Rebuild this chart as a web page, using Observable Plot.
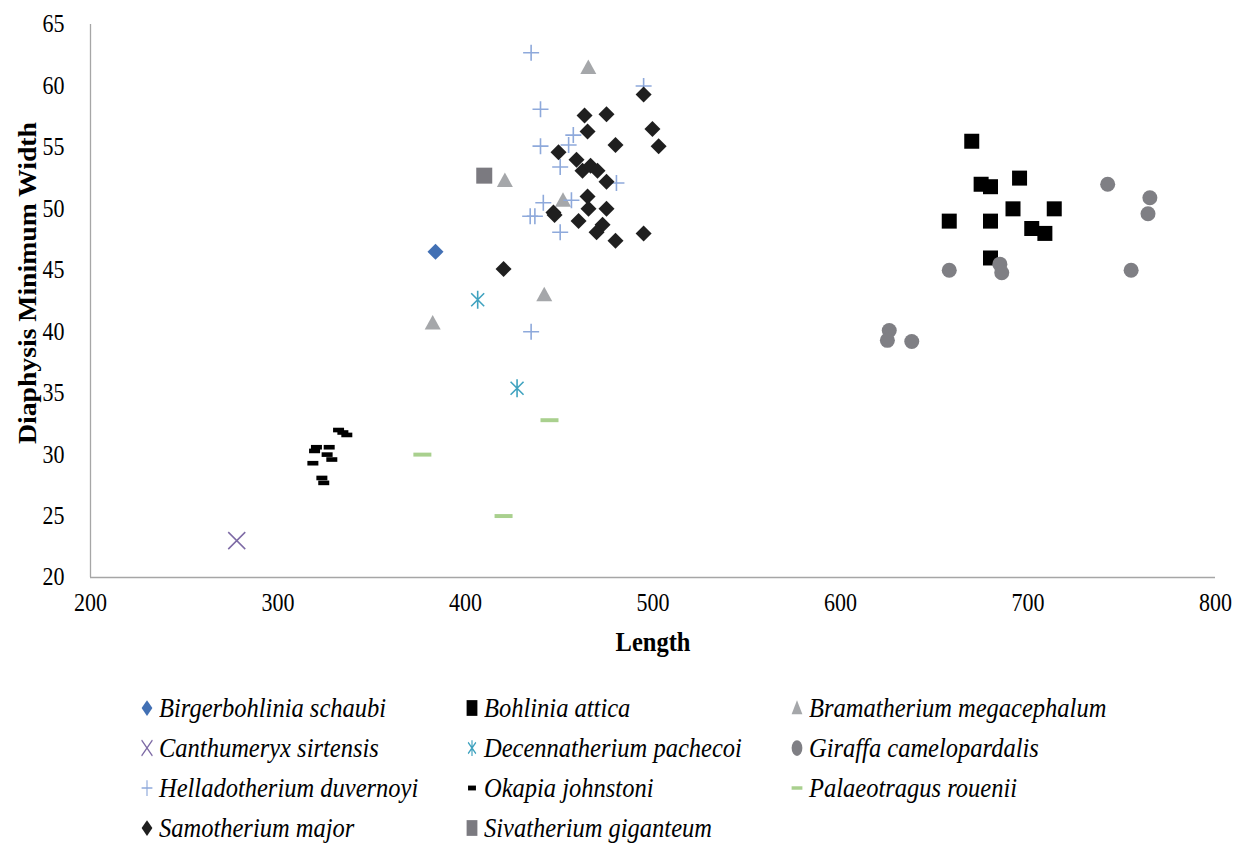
<!DOCTYPE html>
<html><head><meta charset="utf-8">
<script src="https://cdn.jsdelivr.net/npm/d3@7"></script>
<script src="https://cdn.jsdelivr.net/npm/@observablehq/plot@0.6"></script>
<style>
body{margin:0;background:#fff;font-family:"Liberation Serif","Times New Roman",serif;}
#wrap{width:1238px;}
#legend{display:grid;grid-template-columns:325px 325px 325px;grid-auto-rows:40px;padding-left:137px;padding-top:16px;}
.item{display:flex;align-items:center;font-family:"Liberation Serif","Times New Roman",serif;font-style:italic;font-size:24.5px;color:#000;white-space:nowrap;}
.item svg{margin-right:2px;flex:none;}
.item span{display:inline-block;transform:scaleY(1.12);transform-origin:left center;}
</style></head>
<body><div id="wrap"><div id="chart"></div><div id="legend"></div></div>
<script>
// ---- data (Length, Diaphysis Minimum Width) ----
const species = ["Birgerbohlinia schaubi","Bohlinia attica","Bramatherium megacephalum","Canthumeryx sirtensis","Decennatherium pachecoi","Giraffa camelopardalis","Helladotherium duvernoyi","Okapia johnstoni","Palaeotragus rouenii","Samotherium major","Sivatherium giganteum"];
const birgerbohlinia = [[384,46.5]];
const bohlinia = [[670,55.5],[658,49.0],[675,52.0],[680,51.8],[695.5,52.5],[692,50.0],[680,49.0],[702,48.4],[709,48.0],[714,50.0],[680,46.0]];
const bramatherium = [[465.5,61.5],[421,52.3],[452,50.7],[442,43.0],[382.5,40.7]];
const canthumeryx = [[278,23.0]];
const decennatherium = [[406.5,42.6],[427.5,35.4]];
const giraffa = [[742.5,52.0],[765,50.9],[764,49.6],[755,45.0],[658,45.0],[685,45.5],[686,44.8],[626,40.1],[625,39.3],[638,39.2]];
const helladotherium = [[435,62.7],[495,60.0],[440,58.1],[440,55.1],[457.5,56.0],[455,55.2],[450.5,53.4],[480.5,52.1],[441.5,50.5],[456.5,50.7],[434.5,49.4],[437,49.4],[450.5,48.1],[435,40.0]];
const okapia = [[332.3,32.0],[334.6,31.8],[336.7,31.6],[320.5,30.6],[327.3,30.6],[319.5,30.3],[326.2,30.0],[328.7,29.6],[318.6,29.3],[323.4,28.1],[324.4,27.7]];
const palaeotragus = [[377,30.0],[420.3,25.0],[444.8,32.8]];
const samotherium = [[495,59.3],[463.5,57.6],[475.2,57.7],[499.7,56.5],[465.1,56.3],[480,55.2],[503,55.1],[449.6,54.6],[459.2,54.0],[462.4,53.1],[466.7,53.5],[470.4,53.1],[475.2,52.2],[465.1,51.0],[465.6,50.0],[475.2,50.0],[446.9,49.7],[447.5,49.5],[460.3,49.0],[473.1,48.7],[469.9,48.1],[480,47.4],[495,48.0],[420.3,45.1]];
const sivatherium = [[410,52.7]];
const xTicks = [200,300,400,500,600,700,800];
const yTicks = [20,25,30,35,40,45,50,55,60,65];
const xTitle = "Length";
const yTitle = "Diaphysis Minimum Width";

// ---- symbols ----
const sym = f => ({draw(ctx, size){ f(ctx, Math.sqrt(size/Math.PI)); }});
const diamond = sym((c,r)=>{c.moveTo(0,-r);c.lineTo(r,0);c.lineTo(0,r);c.lineTo(-r,0);c.closePath();});
const square = sym((c,r)=>{c.rect(-r,-r,2*r,2*r);});
const triangle = sym((c,r)=>{c.moveTo(0,-r);c.lineTo(r,r*0.8);c.lineTo(-r,r*0.8);c.closePath();});
const plus = sym((c,r)=>{c.moveTo(-r,0);c.lineTo(r,0);c.moveTo(0,-r);c.lineTo(0,r);});
const times = sym((c,r)=>{c.moveTo(-r,-r);c.lineTo(r,r);c.moveTo(r,-r);c.lineTo(-r,r);});
const asterisk = sym((c,r)=>{const d=r*0.72;c.moveTo(0,-r);c.lineTo(0,r);c.moveTo(-d,-d);c.lineTo(d,d);c.moveTo(d,-d);c.lineTo(-d,d);});
const circle = sym((c,r)=>{c.moveTo(r,0);c.arc(0,0,r,0,2*Math.PI);});
const dashS = sym((c,r)=>{c.rect(-r,-r*0.42,2*r,r*0.84);});
const dashL = sym((c,r)=>{c.rect(-r,-r*0.22,2*r,r*0.44);});

const series = [
  {name:species[0], data:birgerbohlinia, symbol:diamond, r:8, fill:"#4270b4"},
  {name:species[1], data:bohlinia, symbol:square, r:7.5, fill:"#000000"},
  {name:species[2], data:bramatherium, symbol:triangle, r:8, fill:"#a5a7aa"},
  {name:species[3], data:canthumeryx, symbol:times, r:8.5, stroke:"#7d6aa5", sw:1.5},
  {name:species[4], data:decennatherium, symbol:asterisk, r:9, stroke:"#3fa2bf", sw:1.6},
  {name:species[5], data:giraffa, symbol:circle, r:7.5, fill:"#7f7f84"},
  {name:species[6], data:helladotherium, symbol:plus, r:8, stroke:"#8ea9db", sw:1.6},
  {name:species[7], data:okapia, symbol:dashS, r:5.5, fill:"#000000"},
  {name:species[8], data:palaeotragus, symbol:dashL, r:9, fill:"#a9d08e"},
  {name:species[9], data:samotherium, symbol:diamond, r:8, fill:"#1f1f1f"},
  {name:species[10], data:sivatherium, symbol:square, r:8, fill:"#7b7a80"}
];

const dotMarks = series.map(s => Plot.dot(s.data, {
  x: d=>d[0], y: d=>d[1], symbol: s.symbol, r: s.r,
  fill: s.fill ?? "none", stroke: s.stroke ?? "none", strokeWidth: s.sw ?? 0
}));

const chart = Plot.plot({
  width:1238, height:672,
  marginLeft:90, marginRight:23, marginTop:24, marginBottom:95,
  style:{fontFamily:"'Liberation Serif','Times New Roman',serif", fontSize:"22px", color:"#000", background:"#fff"},
  x:{domain:[200,800]},
  y:{domain:[20,65]},
  marks:[
    Plot.axisX({ticks:xTicks, tickSize:0, tickPadding:16, tickFormat:d=>String(d), label:null, fontSize:22}),
    Plot.axisY({ticks:yTicks, tickSize:0, tickPadding:26, tickFormat:d=>String(d), label:null, fontSize:22}),
    Plot.text([xTitle], {frameAnchor:"bottom", textAnchor:"middle", dy:73, text:d=>d, fontWeight:"bold", fontSize:24.5, fill:"#000"}),
    Plot.text([yTitle], {frameAnchor:"left", textAnchor:"middle", dx:-62, dy:-18, rotate:-90, text:d=>d, fontWeight:"bold", fontSize:24.5, fill:"#000"}),
    Plot.ruleY([20], {stroke:"#a6a6a6", strokeWidth:1.3}),
    Plot.ruleX([200], {stroke:"#a6a6a6", strokeWidth:1.3}),
    ...dotMarks
  ]
});
document.getElementById("chart").appendChild(chart);

// slight vertical stretch of the text, as in the reference rendering
d3.select(chart).selectAll("text").each(function(){
  const t = d3.select(this);
  const tr = t.attr("transform") || "";
  if (this.textContent === yTitle) t.attr("transform", tr + " scale(1.13,1)");
  else t.attr("transform", tr + " scale(1,1.13)");
});

// ---- legend ----
const legend = d3.select("#legend");
for (const s of series) {
  const it = legend.append("div").attr("class","item");
  const svg = it.append("svg").attr("width",20).attr("height",22);
  const rr = Math.min(s.r, 7.5);
  svg.append("path")
    .attr("transform","translate(10,11) scale(0.72,1.05)")
    .attr("d", d3.symbol(s.symbol, rr*rr*Math.PI)())
    .attr("fill", s.fill ?? "none").attr("stroke", s.stroke ?? "none").attr("stroke-width", s.sw ?? 0);
  it.append("span").text(s.name);
}
</script>
</body></html>
